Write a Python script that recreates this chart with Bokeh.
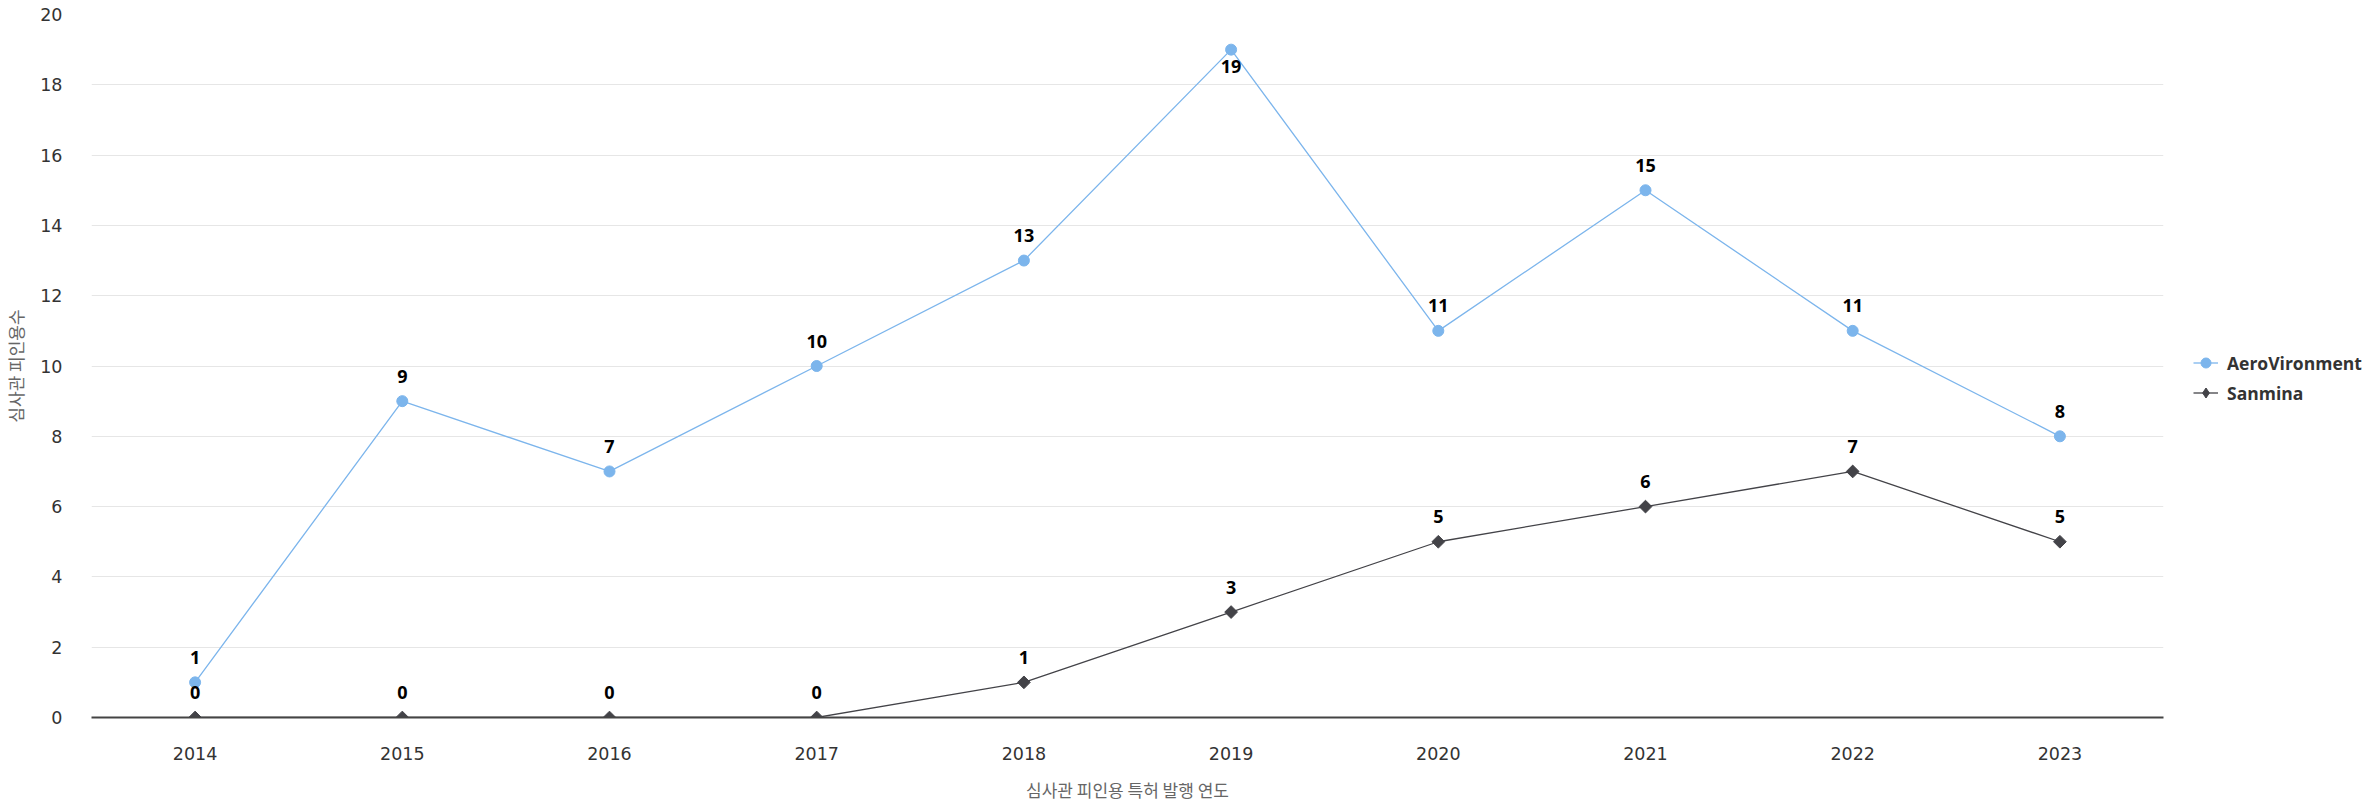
import numpy as np
from bokeh.plotting import figure
from bokeh.layouts import row
from bokeh.models import Range1d, Legend, LegendItem, ColumnDataSource, SingleIntervalTicker
from bokeh.core.properties import value
from bokeh.embed import file_html
from bokeh.resources import INLINE

years = ["2014", "2015", "2016", "2017", "2018", "2019", "2020", "2021", "2022", "2023"]
aerovironment = [1, 9, 7, 10, 13, 19, 11, 15, 11, 8]
sanmina = [0, 0, 0, 0, 1, 3, 5, 6, 7, 5]
series_names = ["AeroVironment", "Sanmina"]
x_title = "심사관 피인용 특허 발행 연도"
y_title = "심사관 피인용수"

KFONT = "Noto Sans CJK KR"
TFONT = "DejaVu Sans"
LFONT = "Open Sans"
Y_MAX = 20
H = 804
MAIN_W = 2168
LEG_W = 2374 - MAIN_W

p = figure(x_range=years, y_range=Range1d(0, Y_MAX),
           width=MAIN_W, height=H, output_backend="svg", toolbar_location=None,
           min_border_left=90, min_border_right=5, min_border_top=14, min_border_bottom=87)
p.outline_line_color = None
p.background_fill_color = "white"
p.border_fill_color = "white"

# x axis
p.xaxis.axis_line_color = "#444444"
p.xaxis.axis_line_width = 2
p.xaxis.major_tick_line_color = None
p.xaxis.minor_tick_line_color = None
p.xaxis.major_label_standoff = 23
p.xaxis.major_label_text_font = TFONT
p.xaxis.major_label_text_font_size = "17.5px"
p.xaxis.major_label_text_line_height = 1.0
p.xaxis.major_label_text_color = "#333333"
p.xaxis.axis_label = x_title
p.xaxis.axis_label_text_font = KFONT
p.xaxis.axis_label_text_font_size = "17px"
p.xaxis.axis_label_text_line_height = 1.0
p.xaxis.axis_label_text_font_style = "normal"
p.xaxis.axis_label_text_color = "#666666"
p.xaxis.axis_label_standoff = 14

# y axis
p.yaxis.ticker = SingleIntervalTicker(interval=2)
p.yaxis.axis_line_color = None
p.yaxis.major_tick_line_color = None
p.yaxis.minor_tick_line_color = None
p.yaxis.major_label_standoff = 23
p.yaxis.major_label_text_font = TFONT
p.yaxis.major_label_text_font_size = "17.5px"
p.yaxis.major_label_text_color = "#333333"
p.yaxis.axis_label = y_title
p.yaxis.axis_label_text_font = KFONT
p.yaxis.axis_label_text_font_size = "17px"
p.yaxis.axis_label_text_font_style = "normal"
p.yaxis.axis_label_text_color = "#666666"
p.yaxis.axis_label_standoff = 9

p.xgrid.grid_line_color = None
p.ygrid.grid_line_color = "#e6e6e6"
p.ygrid.grid_line_width = 1

colors = ["#7cb5ec", "#434348"]
data = [aerovironment, sanmina]

label_sources = []
for name, vals, col in zip(series_names, data, colors):
    src = ColumnDataSource(dict(x=years, y=vals, lbl=[str(v) for v in vals],
                                yoff=[17 if v >= 0.9 * Y_MAX else -25 for v in vals]))
    p.line("x", "y", source=src, line_color=col, line_width=1.3)
    if name == "Sanmina":
        p.scatter("x", "y", source=src, marker="square", angle=np.pi / 4, size=9,
                  fill_color=col, line_color=col)
    else:
        p.scatter("x", "y", source=src, marker="circle", size=11,
                  fill_color=col, line_color=col)
    label_sources.append(src)

for src in label_sources:
    p.text("x", "y", text="lbl", source=src, y_offset="yoff",
           text_align="center", text_baseline="middle",
           text_font=value(LFONT), text_font_size="18px", text_font_style="bold",
           text_color="#000000")

# legend panel (separate figure to the right, glyphs not drawn: NaN data)
pl = figure(x_range=Range1d(0, 1), y_range=Range1d(0, 1), width=LEG_W, height=H,
            output_backend="svg", toolbar_location=None,
            min_border_left=0, min_border_right=0, min_border_top=0, min_border_bottom=0)
pl.axis.visible = False
pl.grid.visible = False
pl.outline_line_color = None
markers = ["circle", "diamond"]
msizes = [11, 12]
items = []
for name, col, mk, ms in zip(series_names, colors, markers, msizes):
    l = pl.line(x=[0.5, 0.6], y=[np.nan, np.nan], line_color=col, line_width=1.3)
    m = pl.scatter(x=[0.5], y=[np.nan], marker=mk, size=ms, fill_color=col, line_color=col)
    items.append(LegendItem(label=name, renderers=[l, m]))

legend = Legend(items=items, location=(25, 311), orientation="vertical",
                border_line_color=None, background_fill_alpha=0,
                padding=0, margin=0, spacing=3,
                glyph_width=25, glyph_height=27, label_height=27, label_standoff=9,
                label_text_font=LFONT, label_text_font_size="17.5px",
                label_text_font_style="bold", label_text_color="#333333")
pl.add_layout(legend, "center")

layout = row(p, pl, spacing=0)
open("out.html", "w").write(file_html(layout, INLINE))
